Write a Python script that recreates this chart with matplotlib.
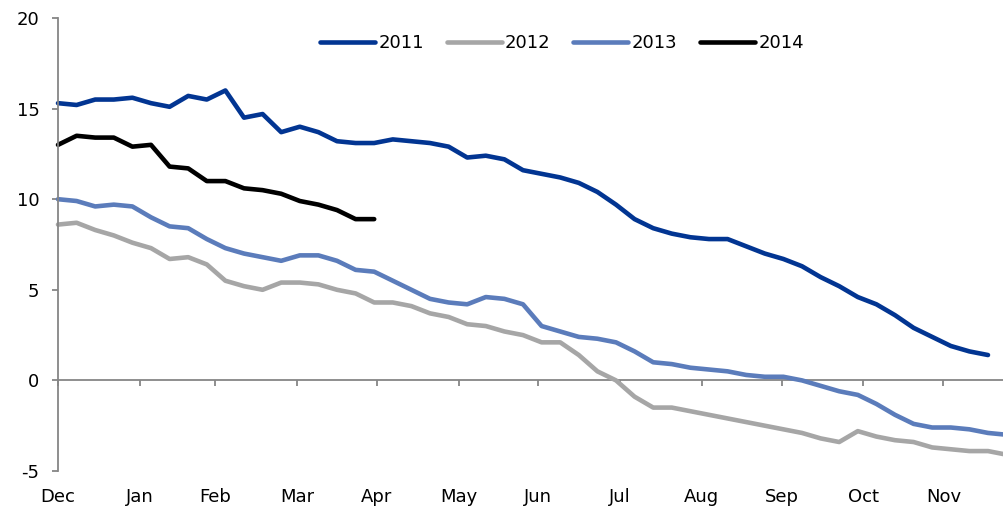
import matplotlib
matplotlib.use("Agg")
import matplotlib.pyplot as plt
import numpy as np

months = ["Dec", "Jan", "Feb", "Mar", "Apr", "May", "Jun", "Jul", "Aug", "Sep", "Oct", "Nov"]
# month tick positions in weeks from start of Dec
month_pos = [0, 4.41, 8.44, 12.85, 17.15, 21.56, 25.8, 30.2, 34.6, 38.9, 43.3, 47.6]

s2011 = [15.3, 15.2, 15.5, 15.5, 15.6, 15.3, 15.1, 15.7, 15.5, 16.0,
         14.5, 14.7, 13.7, 14.0, 13.7, 13.2, 13.1, 13.1, 13.3, 13.2,
         13.1, 12.9, 12.3, 12.4, 12.2, 11.6, 11.4, 11.2, 10.9, 10.4,
         9.7, 8.9, 8.4, 8.1, 7.9, 7.8, 7.8, 7.4, 7.0, 6.7,
         6.3, 5.7, 5.2, 4.6, 4.2, 3.6, 2.9, 2.4, 1.9, 1.6, 1.4]
s2012 = [8.6, 8.7, 8.3, 8.0, 7.6, 7.3, 6.7, 6.8, 6.4, 5.5,
         5.2, 5.0, 5.4, 5.4, 5.3, 5.0, 4.8, 4.3, 4.3, 4.1,
         3.7, 3.5, 3.1, 3.0, 2.7, 2.5, 2.1, 2.1, 1.4, 0.5,
         0.0, -0.9, -1.5, -1.5, -1.7, -1.9, -2.1, -2.3, -2.5, -2.7,
         -2.9, -3.2, -3.4, -2.8, -3.1, -3.3, -3.4, -3.7, -3.8, -3.9, -3.9, -4.1]
s2013 = [10.0, 9.9, 9.6, 9.7, 9.6, 9.0, 8.5, 8.4, 7.8, 7.3,
         7.0, 6.8, 6.6, 6.9, 6.9, 6.6, 6.1, 6.0, 5.5, 5.0,
         4.5, 4.3, 4.2, 4.6, 4.5, 4.2, 3.0, 2.7, 2.4, 2.3,
         2.1, 1.6, 1.0, 0.9, 0.7, 0.6, 0.5, 0.3, 0.2, 0.2,
         0.0, -0.3, -0.6, -0.8, -1.3, -1.9, -2.4, -2.6, -2.6, -2.7, -2.9, -3.0]
s2014 = [13.0, 13.5, 13.4, 13.4, 12.9, 13.0, 11.8, 11.7, 11.0, 11.0,
         10.6, 10.5, 10.3, 9.9, 9.7, 9.4, 8.9, 8.9]

series = [("2011", s2011, "#023592"), ("2012", s2012, "#a6a6a6"),
          ("2013", s2013, "#5b7cbb"), ("2014", s2014, "#000000")]

plt.rcParams['font.family'] = ['DejaVu Sans']
plt.rcParams['axes.unicode_minus'] = False
fs = 13

fig = plt.figure(figsize=(10.04, 5.08), dpi=100)
W, H = 1004, 508
x0, x1 = 58, 1006.6
ytop, ybot = 18, 471
ax = fig.add_axes([x0 / W, 1 - ybot / H, (x1 - x0) / W, (ybot - ytop) / H])

for name, vals, col in series:
    ax.plot(np.arange(len(vals)), vals, color=col, lw=3.3, label=name,
            solid_capstyle='round', solid_joinstyle='round', clip_on=False)

ax.set_xlim(0, 51)
ax.set_ylim(-5, 20)
ax.set_yticks([-5, 0, 5, 10, 15, 20])
ax.set_xticks(month_pos)
ax.set_xticklabels([])

gray = "#868686"
for s in ["top", "right"]:
    ax.spines[s].set_visible(False)
ax.spines["bottom"].set_position(("data", 0))
ax.spines["bottom"].set_color(gray)
ax.spines["left"].set_color(gray)
ax.spines["bottom"].set_linewidth(1.3)
ax.spines["left"].set_linewidth(1.3)
ax.spines["bottom"].set_zorder(1)
ax.tick_params(axis="y", direction="out", length=4.3, width=1.3, color=gray,
               pad=9, labelsize=fs)
ax.tick_params(axis="x", direction="out", length=4.3, width=1.3, color=gray)

for pos, m in zip(month_pos, months):
    ax.annotate(m, xy=(pos, -5), xytext=(0, -26), textcoords="offset pixels",
                ha="center", va="center", fontsize=fs)

leg = fig.legend(loc="center", bbox_to_anchor=(562 / W, 1 - 43 / H), ncol=4,
                 frameon=False, fontsize=fs, handlelength=3.05,
                 handletextpad=0.17, columnspacing=1.27, borderpad=0)

fig.savefig("out.png", dpi=100)
